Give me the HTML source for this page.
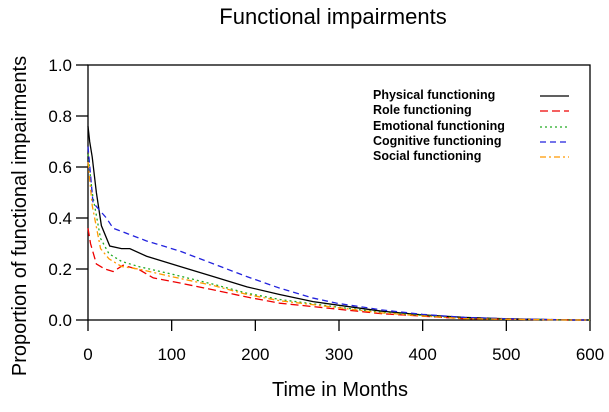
<!DOCTYPE html>
<html><head><meta charset="utf-8"><style>
body{margin:0;background:#fff;width:609px;height:407px;overflow:hidden}
svg{font-family:"Liberation Sans",Arial,sans-serif}
</style></head><body>
<svg width="609" height="407">
<text x="333" y="24" font-size="22" text-anchor="middle">Functional impairments</text>
<text x="340" y="396" font-size="20" text-anchor="middle">Time in Months</text>
<text transform="translate(26,216) rotate(-90)" font-size="20" text-anchor="middle">Proportion of functional impairments</text>
<g id="axes"></g>
<g id="series"></g>
<g font-size="12.5" font-weight="bold">
<text x="373" y="99">Physical functioning</text>
<text x="373" y="114">Role functioning</text>
<text x="373" y="130">Emotional functioning</text>
<text x="373" y="145">Cognitive functioning</text>
<text x="373" y="160">Social functioning</text>
<line x1="540" y1="96" x2="569" y2="96" stroke="#000" stroke-width="1.3"/>
<line x1="540" y1="111" x2="569" y2="111" stroke="#e00" stroke-width="1.3" stroke-dasharray="8,4"/>
<line x1="540" y1="127" x2="569" y2="127" stroke="#2a2" stroke-width="1.3" stroke-dasharray="2,3"/>
<line x1="540" y1="142" x2="569" y2="142" stroke="#22d" stroke-width="1.3" stroke-dasharray="6,4"/>
<line x1="540" y1="157" x2="569" y2="157" stroke="#f90" stroke-width="1.3" stroke-dasharray="6,3,2,3"/>
</g>
</svg>
<script>
const xTicks=[0,100,200,300,400,500,600];
const yTicks=[0.0,0.2,0.4,0.6,0.8,1.0];
const names=["Physical functioning","Role functioning","Emotional functioning","Cognitive functioning","Social functioning"];
const tPhys=[0,2,5,10,16,26,40,50,70,110,150,190,229,269,297,350,400,450,500,580];
const vPhys=[0.76,0.70,0.64,0.50,0.37,0.29,0.28,0.28,0.25,0.21,0.17,0.13,0.10,0.072,0.059,0.035,0.02,0.01,0.005,0];
const tRole=[0,3,10,20,30,42,62,78,110,150,190,229,297,350,400,450,500,580];
const vRole=[0.36,0.30,0.22,0.20,0.19,0.215,0.196,0.165,0.145,0.118,0.09,0.066,0.043,0.025,0.015,0.005,0.003,0];
const tEmo=[0,5,15,25,40,60,100,150,190,230,300,350,400,450,500,580];
const vEmo=[0.65,0.50,0.32,0.26,0.23,0.21,0.18,0.14,0.105,0.08,0.05,0.03,0.018,0.006,0.003,0];
const tCog=[0,6,22,30,70,110,150,190,229,269,297,350,400,450,500,580];
const vCog=[0.68,0.46,0.40,0.36,0.31,0.27,0.22,0.17,0.125,0.086,0.066,0.04,0.022,0.01,0.005,0];
const tSoc=[0,5,15,25,40,60,100,150,190,230,300,350,400,450,500,580];
const vSoc=[0.62,0.45,0.28,0.24,0.21,0.20,0.17,0.135,0.10,0.075,0.048,0.028,0.016,0.005,0.003,0];
const ns="http://www.w3.org/2000/svg";
const X=t=>88+t*(590-88)/600, Y=v=>320-v*255;
const axes=document.getElementById('axes'), ser=document.getElementById('series');
function mk(tag,a,p){const e=document.createElementNS(ns,tag);for(const k in a)e.setAttribute(k,a[k]);p.appendChild(e);return e;}
const frame=mk('rect',{x:88,y:65,width:502,height:255,fill:'none',stroke:'#000','stroke-width':1.3},axes);


xTicks.forEach(t=>{
 const l=mk('line',{x1:X(t),x2:X(t),y1:320,y2:331,stroke:'#000','stroke-width':1.3},axes);
 
 
 const tx=mk('text',{x:X(t),y:360,'font-size':17,'text-anchor':'middle'},axes);tx.textContent=t;
 
 
});
yTicks.forEach(v=>{
 const l=mk('line',{x1:76,x2:88,y1:Y(v),y2:Y(v),stroke:'#000','stroke-width':1.3},axes);
 
 
 const tx=mk('text',{x:72,y:Y(v)+6,'font-size':17,'text-anchor':'end'},axes);tx.textContent=v.toFixed(1);
 
 
});
const series=[[tPhys,vPhys,'#000','none'],[tRole,vRole,'#e00','8,4'],[tEmo,vEmo,'#2a2','2,3'],[tCog,vCog,'#22d','6,4'],[tSoc,vSoc,'#f90','6,3,2,3']];
series.forEach((s,i)=>{
 let d='M'+X(s[0][0])+','+Y(s[1][0]);
 for(let j=1;j<s[0].length;j++){d+=' L'+X(s[0][j])+','+Y(s[1][j]);}
 d+=' L'+X(600)+','+Y(s[1][s[1].length-1]);
 const p=mk('path',{d:d,fill:'none',stroke:s[2],'stroke-width':1.3,'stroke-dasharray':s[3]},ser);
 
 
});
</script>
</body></html>
